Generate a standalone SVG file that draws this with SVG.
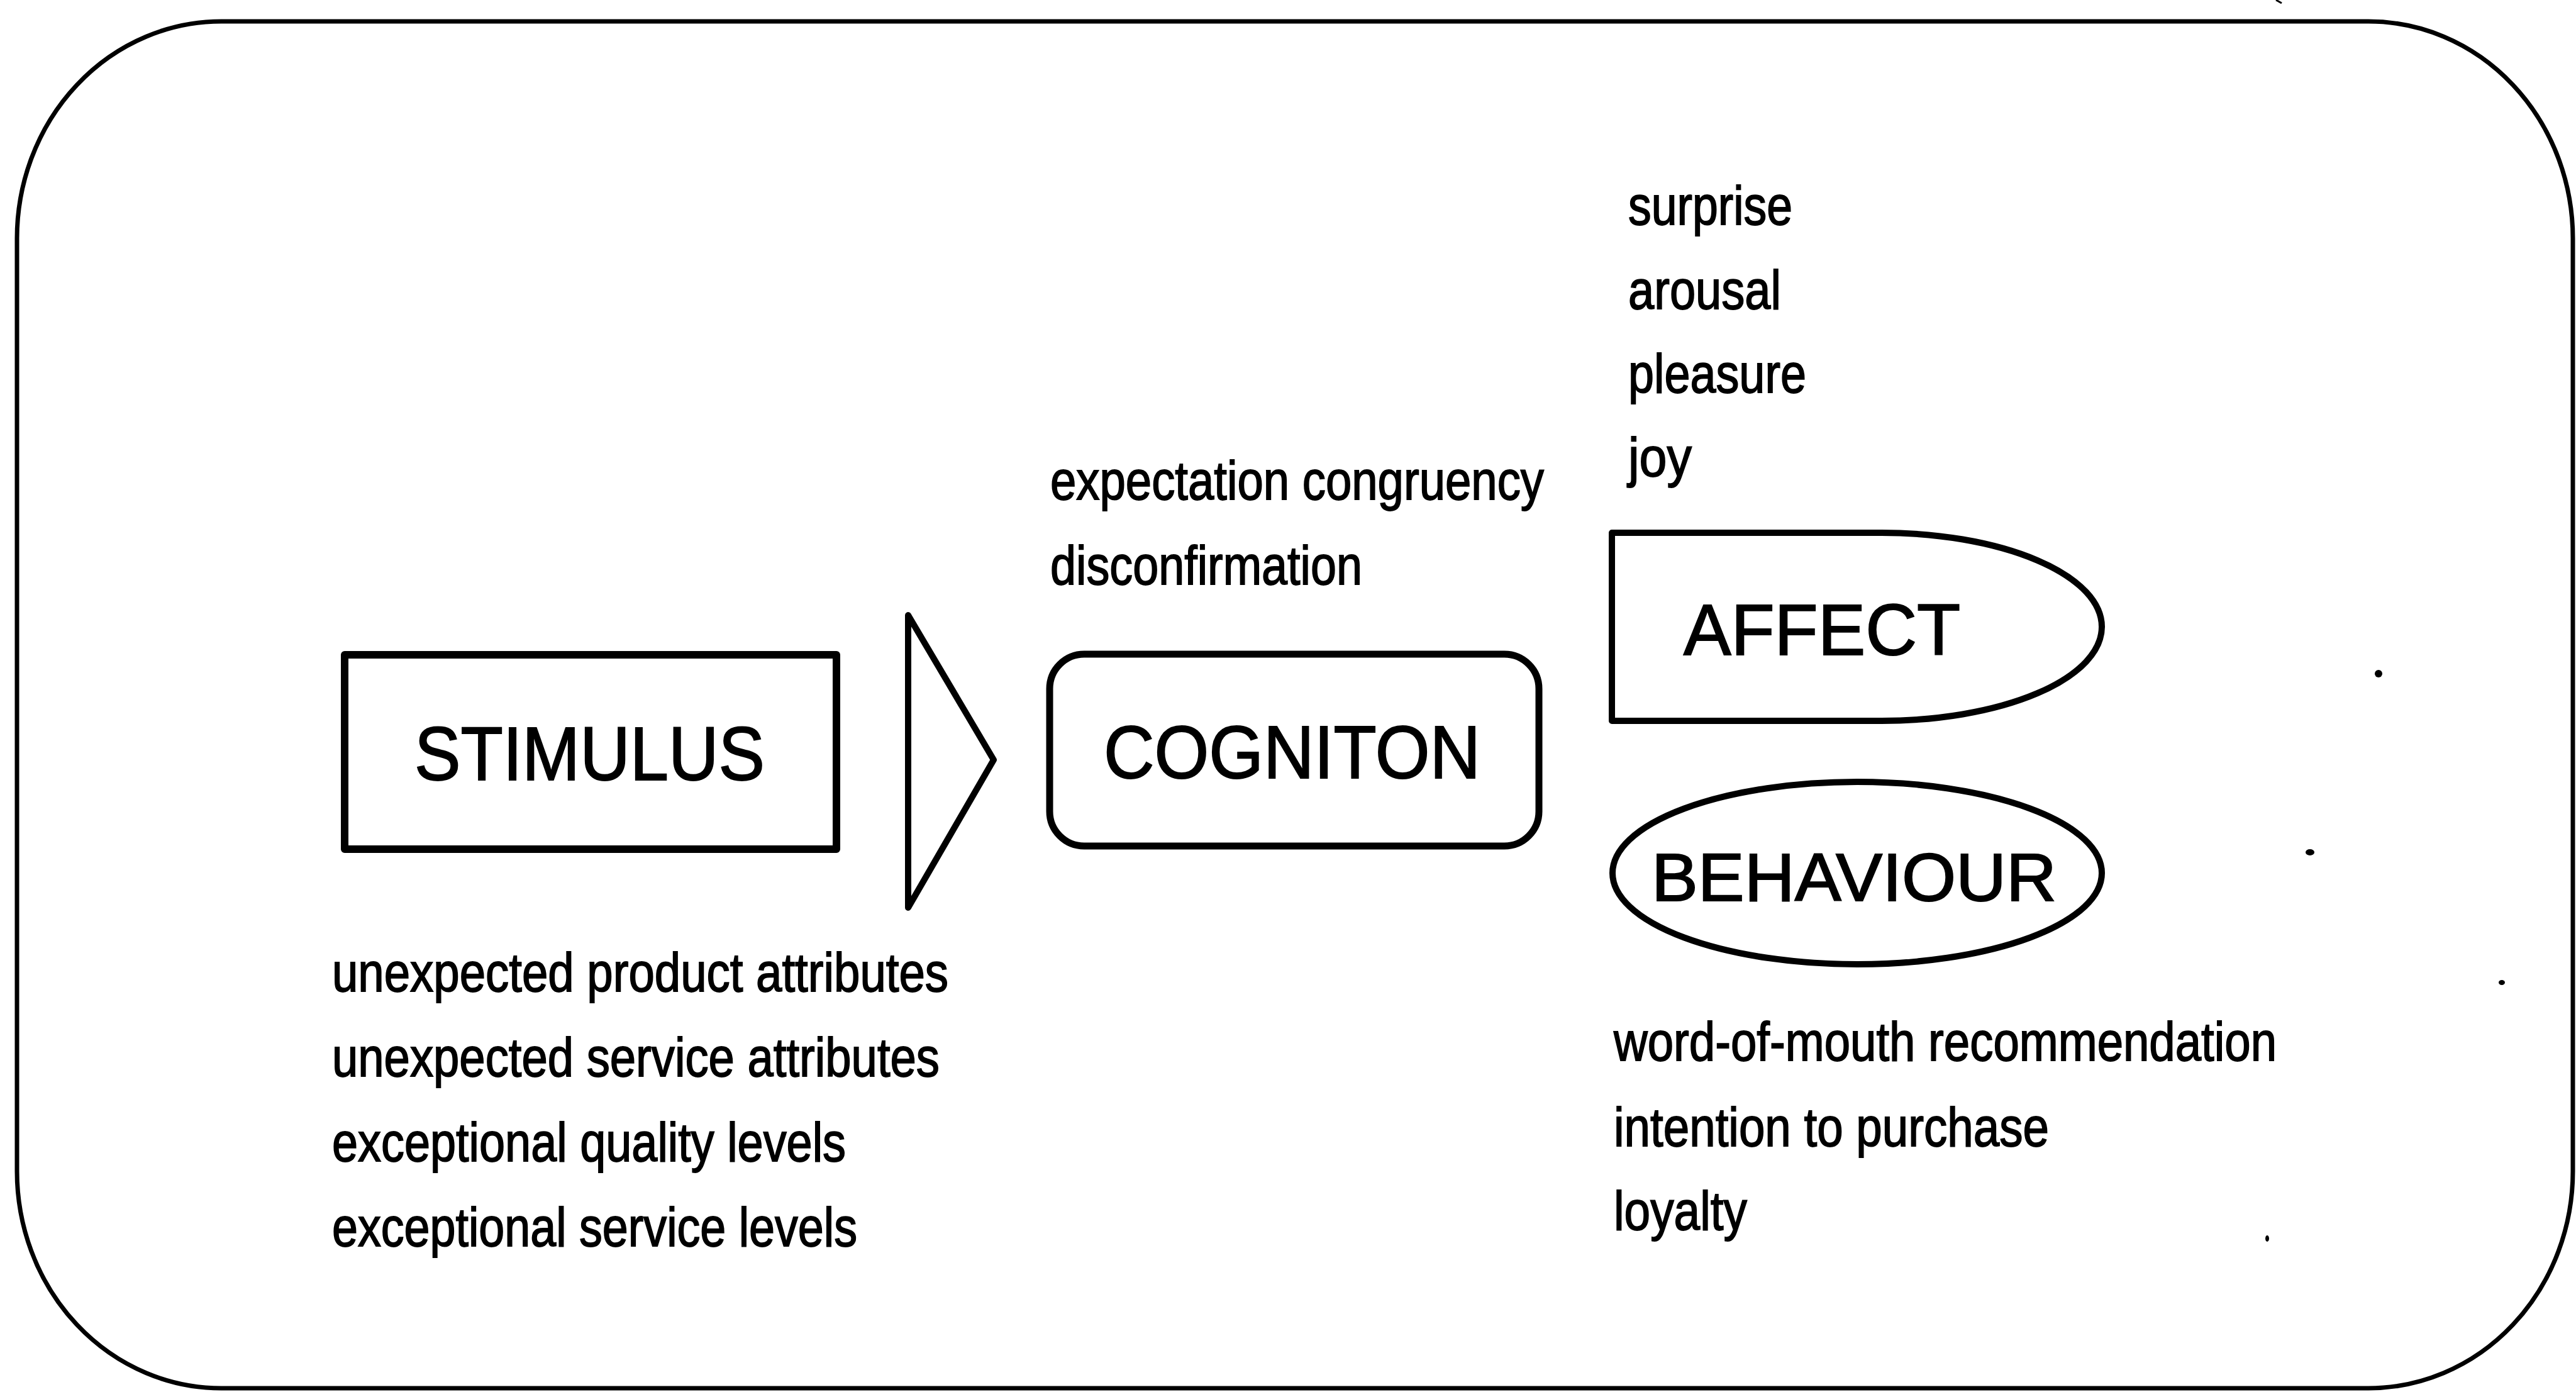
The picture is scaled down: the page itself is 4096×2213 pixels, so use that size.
<svg xmlns="http://www.w3.org/2000/svg" width="4096" height="2213" viewBox="0 0 4096 2213">
<style>
.ln{fill:none;stroke:#000;stroke-linejoin:round}
.title{font-family:"Liberation Sans",Arial,Helvetica,sans-serif;fill:#000;stroke:#000;stroke-width:2}
.lbl{font-family:"Liberation Sans",Arial,Helvetica,sans-serif;font-size:88px;fill:#000;stroke:#000;stroke-width:1.8}
.speck{fill:#000}
</style>
<rect width="4096" height="2213" fill="#fff"/>
<g id="frame">
<rect class="ln" x="27" y="34" width="4064" height="2173" rx="325" ry="345" stroke-width="7"/>
<path class="ln" d="M3619,0 L3628,5" stroke-width="3"/>
<ellipse class="speck" cx="3782" cy="1071" rx="6" ry="6"/>
<ellipse class="speck" cx="3673" cy="1355" rx="7" ry="5"/>
<ellipse class="speck" cx="3978" cy="1562" rx="5" ry="4"/>
<ellipse class="speck" cx="3605" cy="1969" rx="3" ry="5"/>
</g>
<g id="stimulus">
<rect class="ln" x="548" y="1041" width="782" height="309" stroke-width="12"/>
<text class="title" x="659" y="1240" font-size="120" textLength="557" lengthAdjust="spacingAndGlyphs">STIMULUS</text>
<g id="stimulus-labels">
<text class="lbl" x="528" y="1576" textLength="980" lengthAdjust="spacingAndGlyphs">unexpected product attributes</text>
<text class="lbl" x="528" y="1711" textLength="966" lengthAdjust="spacingAndGlyphs">unexpected service attributes</text>
<text class="lbl" x="528" y="1846" textLength="817" lengthAdjust="spacingAndGlyphs">exceptional quality levels</text>
<text class="lbl" x="528" y="1981" textLength="835" lengthAdjust="spacingAndGlyphs">exceptional service levels</text>
</g>
</g>
<g id="connectors">
<polygon class="ln" points="1444,978 1444,1443 1580,1208" stroke-width="10"/>
</g>
<g id="cognition">
<rect class="ln" x="1669" y="1040" width="778" height="305" rx="55" ry="55" stroke-width="11"/>
<text class="title" x="1755" y="1237" font-size="118" textLength="599" lengthAdjust="spacingAndGlyphs">COGNITON</text>
<g id="cognition-labels">
<text class="lbl" x="1670" y="794" font-size="86" textLength="785" lengthAdjust="spacingAndGlyphs">expectation congruency</text>
<text class="lbl" x="1670" y="929" font-size="86" textLength="496" lengthAdjust="spacingAndGlyphs">disconfirmation</text>
</g>
</g>
<g id="affect">
<path class="ln" d="M2563,847 H2992 A350,149.5 0 0 1 2992,1146 H2563 Z" stroke-width="10"/>
<text class="title" x="2677" y="1041" font-size="115" textLength="440" lengthAdjust="spacingAndGlyphs" stroke-width="3.5">AFFECT</text>
<g id="affect-labels">
<text class="lbl" x="2589" y="357" font-size="86" textLength="261" lengthAdjust="spacingAndGlyphs">surprise</text>
<text class="lbl" x="2589" y="491" font-size="86" textLength="243" lengthAdjust="spacingAndGlyphs">arousal</text>
<text class="lbl" x="2589" y="624" font-size="86" textLength="283" lengthAdjust="spacingAndGlyphs">pleasure</text>
<text class="lbl" x="2589" y="757" font-size="86" textLength="101" lengthAdjust="spacingAndGlyphs">joy</text>
</g>
</g>
<g id="behaviour">
<ellipse class="ln" cx="2953" cy="1388" rx="389" ry="145" stroke-width="10"/>
<text class="title" x="2626" y="1432" font-size="108" textLength="644" lengthAdjust="spacingAndGlyphs" stroke-width="3.5">BEHAVIOUR</text>
<g id="behaviour-labels">
<text class="lbl" x="2566" y="1686" textLength="1054" lengthAdjust="spacingAndGlyphs">word-of-mouth recommendation</text>
<text class="lbl" x="2566" y="1822" textLength="692" lengthAdjust="spacingAndGlyphs">intention to purchase</text>
<text class="lbl" x="2566" y="1955" textLength="212" lengthAdjust="spacingAndGlyphs">loyalty</text>
</g>
</g>
</svg>
